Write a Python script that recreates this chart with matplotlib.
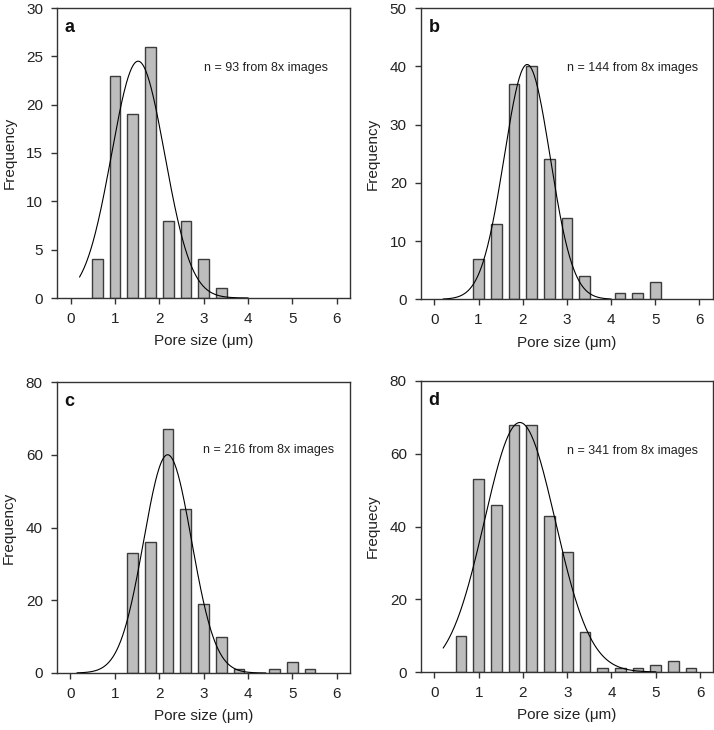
import matplotlib
matplotlib.use('Agg')
import matplotlib.pyplot as plt
import numpy as np

plt.rcParams['font.family'] = ['Liberation Sans', 'DejaVu Sans']

# bin centres (um) and counts
bins_a = [0.6, 1.0, 1.4, 1.8, 2.2, 2.6, 3.0, 3.4]
counts_a = [4, 23, 19, 26, 8, 8, 4, 1]

bins_b = [1.0, 1.4, 1.8, 2.2, 2.6, 3.0, 3.4, 4.2, 4.6, 5.0]
counts_b = [7, 13, 37, 40, 24, 14, 4, 1, 1, 3]

bins_c = [1.4, 1.8, 2.2, 2.6, 3.0, 3.4, 3.8, 4.6, 5.0, 5.4]
counts_c = [33, 36, 67, 45, 19, 10, 1, 1, 3, 1]

bins_d = [0.6, 1.0, 1.4, 1.8, 2.2, 2.6, 3.0, 3.4, 3.8, 4.2, 4.6, 5.0, 5.4, 5.8]
counts_d = [10, 53, 46, 68, 68, 43, 33, 11, 1, 1, 1, 2, 3, 1]

# gaussian fit parameters (peak, mean, sd, x range of drawn curve)
fit_a = (24.5, 1.52, 0.60, 0.2, 4.0)
fit_b = (40.3, 2.10, 0.52, 0.2, 4.0)
fit_c = (60.0, 2.19, 0.54, 0.15, 4.4)
fit_d = (68.6, 1.93, 0.80, 0.2, 5.0)

letters = ['a', 'b', 'c', 'd']
notes = ['n = 93 from 8x images', 'n = 144 from 8x images',
         'n = 216 from 8x images', 'n = 341 from 8x images']
ylabels = ['Frequency', 'Frequency', 'Frequency', 'Frequecy']
ymax = [30, 50, 80, 80]
ystep = [5, 10, 20, 20]

W, H = 714, 730
# axes boxes in pixels: left, top, right, bottom
boxes = [(57, 8, 350, 298), (420.7, 8, 712.7, 299.3),
         (56.7, 382, 350, 673), (420.7, 381, 713.3, 672)]
note_y = [0.793, 0.794, 0.766, 0.759]

fig = plt.figure(figsize=(W / 100, H / 100), dpi=100)

panels = [(bins_a, counts_a, fit_a), (bins_b, counts_b, fit_b),
          (bins_c, counts_c, fit_c), (bins_d, counts_d, fit_d)]

for i, (bins, counts, fit) in enumerate(panels):
    l, t, r, b = boxes[i]
    ax = fig.add_axes([l / W, 1 - b / H, (r - l) / W, (b - t) / H])
    ax.bar(bins, counts, width=0.24, color='#bdbdbd', edgecolor='#3c3c3c',
           linewidth=1.0, zorder=2)
    peak, mu, sd, x0, x1 = fit
    xs = np.linspace(x0, x1, 300)
    ax.plot(xs, peak * np.exp(-(xs - mu) ** 2 / (2 * sd ** 2)),
            color='black', lw=0.8, zorder=3)

    ax.set_xlim(-0.31, 6.3)
    ax.set_ylim(0, ymax[i])
    ax.set_xticks(range(0, 7))
    ax.set_yticks(range(0, ymax[i] + 1, ystep[i]))
    ax.tick_params(direction='out', length=4, width=1, colors='#333333',
                   labelsize=11, labelcolor='#222222', pad=6)
    for s in ax.spines.values():
        s.set_color('#333333')
        s.set_linewidth(1.0)
    ax.set_ylabel(ylabels[i], fontsize=11, color='#222222', labelpad=7)
    ax.set_xlabel('Pore size (\u03bcm)', fontsize=11, color='#222222', labelpad=6)

    ax.text(0.027, 0.934, letters[i], transform=ax.transAxes, fontsize=13,
            fontweight='bold', va='center', ha='left', color='#111111')
    ax.text(0.5, note_y[i], notes[i], transform=ax.transAxes, fontsize=9,
            va='center', ha='left', color='#222222')

fig.savefig('out.png', dpi=100)
